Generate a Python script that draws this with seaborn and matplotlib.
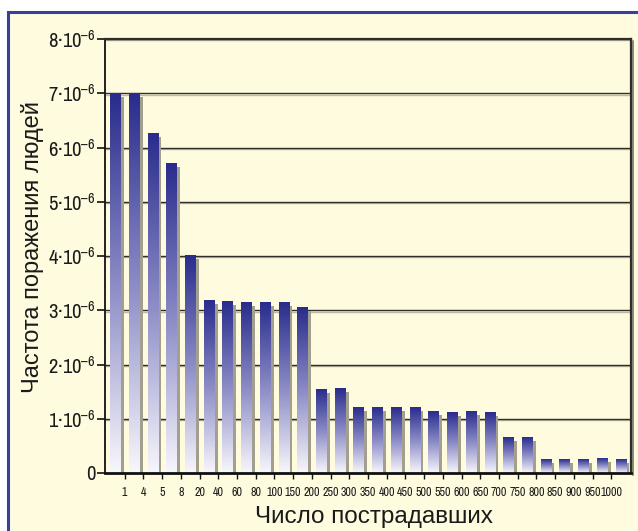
import numpy as np
import pandas as pd
import matplotlib
matplotlib.use("Agg")
import matplotlib.pyplot as plt
import seaborn as sns
from matplotlib import font_manager
from matplotlib.patches import Rectangle
from matplotlib.colors import LinearSegmentedColormap
from matplotlib.transforms import offset_copy
from matplotlib.ticker import FuncFormatter

# ---------------- data ----------------
bar_ids = list(range(1, 29))
freq_e6 = [7.00, 7.00, 6.25, 5.70, 4.01, 3.18, 3.16, 3.14, 3.14, 3.14, 3.05,
           1.53, 1.55, 1.21, 1.21, 1.21, 1.21, 1.14, 1.12, 1.14, 1.12,
           0.66, 0.66, 0.24, 0.24, 0.24, 0.26, 0.24]
x_labels = ["1", "4", "5", "8", "20", "40", "60", "80", "100", "150", "200",
            "250", "300", "350", "400", "450", "500", "550", "600", "650",
            "700", "750", "800", "850", "900", "950", "1000"]
y_ticks = [0, 1, 2, 3, 4, 5, 6, 7, 8]
x_title = "Число пострадавших"
y_title = "Частота поражения людей"

# ---------------- style ----------------
sns.set_theme(style="white")
installed = {f.name for f in font_manager.fontManager.ttflist}
narrow_font = "Archivo Narrow" if "Archivo Narrow" in installed else "Liberation Sans"
base_font = "Liberation Sans"
plt.rcParams['font.family'] = [base_font, 'DejaVu Sans']
plt.rcParams['mathtext.fontset'] = 'custom'
plt.rcParams['mathtext.rm'] = narrow_font
plt.rcParams['mathtext.it'] = narrow_font

cream = "#fffbdf"
dark_line = "#302e28"
shade_line = "#bdb9a4"

fig = plt.figure(figsize=(6.38, 5.31), dpi=100, facecolor="white")
frame = Rectangle((8 / 638, -0.05), 1.0, (531 - 12) / 531 + 0.05,
                  transform=fig.transFigure, facecolor=cream,
                  edgecolor="#3a3e9c", lw=2.2, zorder=-5)
fig.patches.append(frame)

ax = fig.add_axes([105 / 638, 1 - 473 / 531, (631 - 105) / 638, (473 - 39) / 531])
ax.set_zorder(1)
ax.set_facecolor(cream)

df = pd.DataFrame({"bar": bar_ids, "freq": freq_e6})
sns.barplot(data=df, x="bar", y="freq", ax=ax, width=0.55,
            color="#2b2e8e", saturation=1, zorder=3)

xlim = (-0.55, 27.55)
ylim = (0, 8)

cmap = LinearSegmentedColormap.from_list(
    "bar", [(0.0, "#f8f7fc"), (0.5, "#8b8bc6"), (1.0, "#292c8c")])
grad = np.linspace(0, 1, 256).reshape(-1, 1)
shadow_tr = offset_copy(ax.transData, fig=fig, x=3.5, y=-3.5, units="dots")
for p in list(ax.patches):
    x, w, h = p.get_x(), p.get_width(), p.get_height()
    ax.add_patch(Rectangle((x, 0), w, h, transform=shadow_tr,
                           facecolor="#a29f8f", edgecolor="none", zorder=2.5))
    ax.imshow(grad, origin="lower", extent=[x, x + w, 0, h], cmap=cmap,
              aspect="auto", zorder=3, interpolation="bilinear")
    p.set_facecolor("none")
    p.set_edgecolor("none")

ax.set_xlim(*xlim)
ax.set_ylim(*ylim)

# grid lines with shadow
grid_shadow_tr = offset_copy(ax.transData, fig=fig, x=0, y=-1.3, units="dots")
for yv in y_ticks[1:]:
    ax.plot(xlim, [yv, yv], color=shade_line, lw=1.0, zorder=1,
            transform=grid_shadow_tr, solid_capstyle="butt")
    ax.plot(xlim, [yv, yv], color=dark_line, lw=1.0, zorder=1.2,
            solid_capstyle="butt")

# spines
for s in ["left", "bottom"]:
    ax.spines[s].set_color("#111111")
ax.spines["left"].set_linewidth(1.3)
ax.spines["bottom"].set_linewidth(2.0)
ax.spines["bottom"].set_zorder(4)
for s in ["top", "right"]:
    ax.spines[s].set_color(dark_line)
    ax.spines[s].set_linewidth(1.6)
right_sh = offset_copy(ax.transAxes, fig=fig, x=2, y=-2, units="dots")
ax.plot([1, 1], [0, 1], transform=right_sh, color="#8f8b7a", lw=1.4,
        clip_on=False, zorder=0.5)

# ticks
ax.set_yticks(y_ticks)
ax.yaxis.set_major_formatter(FuncFormatter(
    lambda v, pos: "0" if v == 0 else f"{int(v)}·10$^{{\\mathregular{{–6}}}}$"))
ax.tick_params(axis="y", direction="out", length=6, width=1.2, color="#111111",
               labelsize=14.8, pad=0.5, left=True)
ax.set_xticks(np.arange(len(x_labels)) + 0.5)
ax.set_xticklabels(x_labels)
ax.tick_params(axis="x", direction="out", length=4, width=1.0, color="#111111",
               labelsize=8.6, pad=6, bottom=True)
for t in ax.get_yticklabels() + ax.get_xticklabels():
    t.set_fontfamily([narrow_font, "DejaVu Sans"])
    t.set_color("#1a1a1a")

ax.set_xlabel(x_title, fontsize=17.5, color="#1a1a1a")
ax.set_ylabel(y_title, fontsize=17, color="#1a1a1a")
ax.xaxis.set_label_coords(0.511, -0.077)
ax.yaxis.set_label_coords(-0.116, 0.52)

fig.savefig("out.png", dpi=100, facecolor=fig.get_facecolor())
